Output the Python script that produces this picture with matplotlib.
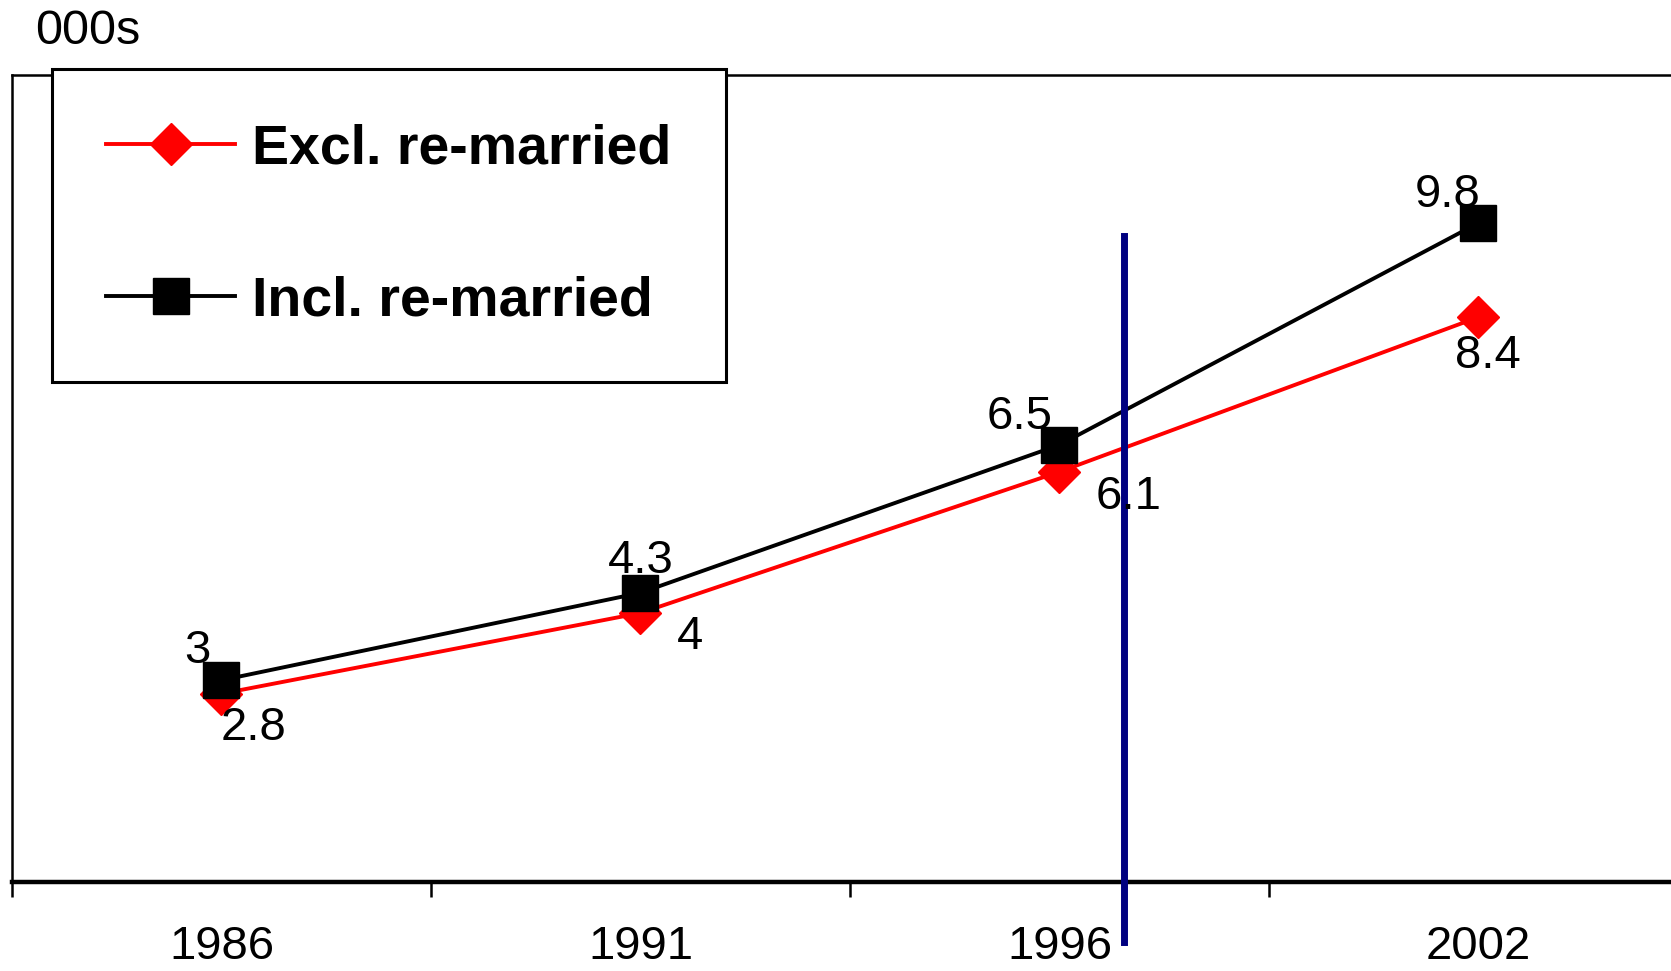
import matplotlib
matplotlib.use("Agg")
import matplotlib.pyplot as plt
import numpy as np

years = ["1986", "1991", "1996", "2002"]
excl = [2.8, 4.0, 6.1, 8.4]
incl = [3.0, 4.3, 6.5, 9.8]
excl_label = "Excl. re-married"
incl_label = "Incl. re-married"
unit_label = "000s"

plt.rcParams['font.family'] = ['Liberation Sans', 'DejaVu Sans']

W, H = 1671, 971
fig = plt.figure(figsize=(W / 100, H / 100), dpi=100)
ax = fig.add_axes([12 / W, 1 - 882 / H, (1688 - 12) / W, (882 - 75) / H])

x = np.arange(len(years))
l1, = ax.plot(x, excl, color='#ff0000', lw=2.8, marker='D', ms=21,
              markerfacecolor='#ff0000', markeredgecolor='#ff0000', label=excl_label, zorder=3)
l2, = ax.plot(x, incl, color='black', lw=2.8, marker='s', ms=26,
              markerfacecolor='black', markeredgecolor='black', label=incl_label, zorder=4)

ax.set_xlim(-0.5, len(years) - 0.5)
ax.set_ylim(0, 12)

# data labels (offsets in points)
excl_off = [(23, -25), (36, -17), (50, -18), (7, -28)]
incl_off = [(-17, 21), (0, 23), (-29, 20), (-22, 20)]
for xi, v, o in zip(x, excl, excl_off):
    ax.annotate(f"{v:g}", (xi, v), xytext=o, textcoords='offset points',
                ha='center', va='center', fontsize=34, zorder=6)
for xi, v, o in zip(x, incl, incl_off):
    ax.annotate(f"{v:g}", (xi, v), xytext=o, textcoords='offset points',
                ha='center', va='center', fontsize=34, zorder=6)

# vertical navy marker line
ax.axvline(2.155, ymin=-0.074, ymax=0.80, color='#000080', lw=5, clip_on=False, zorder=5)

# spines
ax.spines['right'].set_visible(False)
ax.spines['left'].set_linewidth(1.8)
ax.spines['top'].set_linewidth(1.8)
ax.spines['bottom'].set_linewidth(3.2)

ax.set_yticks([])
ax.set_xticks(x)
ax.set_xticklabels(years, family=['Liberation Sans Narrow', 'Liberation Sans', 'DejaVu Sans'],
                   fontsize=34)
ax.tick_params(axis='x', which='major', length=0, pad=31)
ax.set_xticks(np.arange(-0.5, len(years), 1.0), minor=True)
ax.tick_params(axis='x', which='minor', length=11, width=1.8, direction='out')

fig.text(35 / W, 1 - 32 / H, unit_label, fontsize=35, ha='left', va='center')

leg = ax.legend(handles=[l1, l2], loc='upper left',
                bbox_to_anchor=(52 / W, 1 - 69 / H), bbox_transform=fig.transFigure,
                fancybox=False, frameon=True, edgecolor='black', framealpha=1,
                prop={'weight': 'bold', 'size': 40},
                handlelength=2.32, handletextpad=0.3, labelspacing=1.8,
                borderpad=0.98, borderaxespad=0, markerscale=1.0)
leg.get_frame().set_linewidth(2.2)
leg.set_zorder(10)

fig.savefig("out.png", dpi=100)
